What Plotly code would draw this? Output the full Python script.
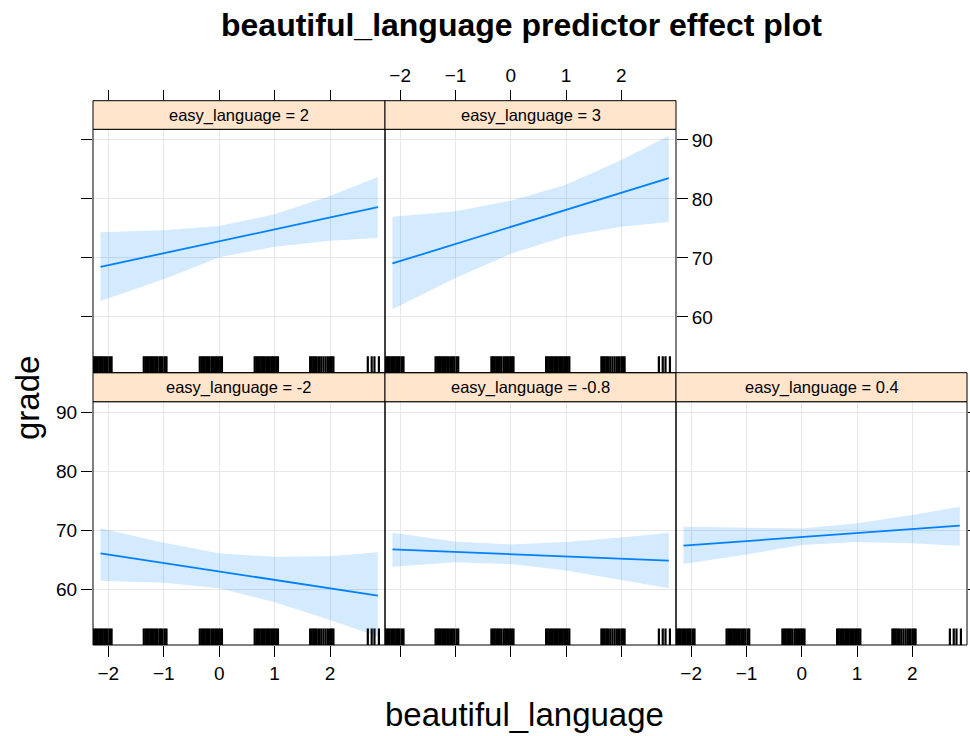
import plotly.graph_objects as go

W, H = 970, 736

# ---------------- data ----------------
x_pts = [-2.14, -1, 0, 1, 2, 2.86]

panel_labels = ["easy_language = -2", "easy_language = -0.8", "easy_language = 0.4",
                "easy_language = 2", "easy_language = 3"]

fit_m2 = [66.1, 64.47, 63.03, 61.6, 60.17, 58.93]
lower_m2 = [61.47, 61.1, 60.2, 57.8, 54.8, 52.0]
upper_m2 = [70.34, 67.9, 66.1, 65.5, 65.6, 66.27]

fit_m08 = [66.78, 66.34, 65.96, 65.57, 65.19, 64.86]
lower_m08 = [63.84, 64.6, 64.3, 63.2, 61.6, 60.2]
upper_m08 = [69.6, 68.1, 67.6, 68.0, 68.8, 69.6]

fit_04 = [67.4, 68.18, 68.86, 69.54, 70.22, 70.8]
lower_04 = [64.3, 65.9, 67.5, 68.0, 67.8, 67.4]
upper_04 = [70.6, 70.5, 70.3, 71.2, 72.6, 74.0]

fit_2 = [68.5, 70.8, 72.8, 74.8, 76.8, 78.6]
lower_2 = [62.7, 66.4, 70.1, 71.9, 72.9, 73.4]
upper_2 = [74.35, 74.7, 75.4, 77.4, 80.5, 83.7]

fit_3 = [69.07, 72.37, 75.26, 78.15, 81.04, 83.53]
lower_3 = [61.3, 66.6, 70.7, 73.7, 75.3, 76.1]
upper_3 = [77.0, 77.9, 79.7, 82.4, 86.6, 90.7]

# observed (jittered) beautiful_language values shown in the rug
rug_x = [-2.28, -2.25, -2.22, -2.19, -2.16, -2.13, -2.1, -2.07, -2.04, -2.01, -1.97, -1.94,
         -1.36, -1.33, -1.3, -1.27, -1.24, -1.21, -1.18, -1.15, -1.12, -1.08, -1.05, -1.02, -0.98, -0.95,
         -0.35, -0.32, -0.29, -0.26, -0.23, -0.2, -0.17, -0.13, -0.1, -0.07, -0.04, -0.01, 0.02, 0.05,
         0.64, 0.67, 0.7, 0.73, 0.76, 0.79, 0.82, 0.85, 0.88, 0.91, 0.94, 0.97, 1.0, 1.03, 1.06,
         1.64, 1.67, 1.7, 1.73, 1.76, 1.8, 1.84, 1.88, 1.92, 1.96, 2.0, 2.03, 2.06,
         2.68, 2.75, 2.8, 2.88]

x_ticks = [-2, -1, 0, 1, 2]
y_ticks = [60, 70, 80, 90]
x_range = [-2.275, 2.99]
y_range = [50.56, 91.8]

panels = [
    (fit_m2, lower_m2, upper_m2),
    (fit_m08, lower_m08, upper_m08),
    (fit_04, lower_04, upper_04),
    (fit_2, lower_2, upper_2),
    (fit_3, lower_3, upper_3),
]

# ---------------- geometry (pixels) ----------------
cols_px = [(93, 385), (385, 676), (676, 967)]
rows_px = {"bottom": {"strip": (372.7, 401.7), "plot": (401.7, 645.0)},
           "top": {"strip": (100.7, 129.3), "plot": (129.3, 372.7)}}
panel_pos = [("bottom", 0), ("bottom", 1), ("bottom", 2), ("top", 0), ("top", 1)]


def px_x(p):
    return p / W


def px_y(p):
    return 1 - p / H


LINE_COL = "#0080FF"
BAND_COL = "rgba(0,128,255,0.17)"
GRID_COL = "#E6E6E6"
FONT = "Liberation Sans, Arial, Helvetica, sans-serif"
TICK_FONT = dict(family=FONT, size=19, color="black")
RUG_FRAC = 0.068

fig = go.Figure()
layout = dict(width=W, height=H, margin=dict(l=0, r=0, t=0, b=0, autoexpand=False),
              paper_bgcolor="white", plot_bgcolor="white", showlegend=False)
shapes = []
annotations = []

for i, ((fit, lo, up), (row, col), lab) in enumerate(zip(panels, panel_pos, panel_labels), start=1):
    xa, ya = f"x{i}", f"y{i}"
    # confidence band
    fig.add_trace(go.Scatter(x=x_pts + x_pts[::-1], y=up + lo[::-1], fill="toself",
                             fillcolor=BAND_COL, line=dict(width=0), mode="lines",
                             xaxis=xa, yaxis=ya, hoverinfo="skip"))
    # fitted line
    fig.add_trace(go.Scatter(x=x_pts, y=fit, mode="lines", line=dict(color=LINE_COL, width=1.8),
                             xaxis=xa, yaxis=ya))
    # rug
    r0 = y_range[0]
    r1 = y_range[0] + RUG_FRAC * (y_range[1] - y_range[0])
    rx, ry = [], []
    for v in rug_x:
        rx += [v, v, None]
        ry += [r0, r1, None]
    fig.add_trace(go.Scatter(x=rx, y=ry, mode="lines", line=dict(color="black", width=2.2),
                             xaxis=xa, yaxis=ya, hoverinfo="skip"))

    c0, c1 = cols_px[col]
    p0, p1 = rows_px[row]["plot"]
    s0, s1 = rows_px[row]["strip"]
    xdom = [px_x(c0), px_x(c1)]
    ydom = [px_y(p1), px_y(p0)]

    xaxis = dict(domain=xdom, anchor=ya, range=x_range, tickvals=x_ticks, showgrid=True,
                 gridcolor=GRID_COL, gridwidth=1, zeroline=False, showline=False,
                 tickfont=TICK_FONT, ticklen=11, tickcolor="black", tickwidth=1, automargin=False)
    yaxis = dict(domain=ydom, anchor=xa, range=y_range, tickvals=y_ticks, showgrid=True,
                 gridcolor=GRID_COL, gridwidth=1, zeroline=False, showline=False,
                 tickfont=TICK_FONT, ticklen=11, tickcolor="black", tickwidth=1, automargin=False)
    if row == "bottom":
        xaxis.update(ticks="outside", side="bottom", showticklabels=(col != 1))
    else:
        xaxis.update(ticks="", showticklabels=False)
    if (row, col) == ("bottom", 0):
        yaxis.update(ticks="outside", side="left", showticklabels=True)
    elif (row, col) == ("top", 0):
        yaxis.update(ticks="outside", side="left", showticklabels=False)
    elif (row, col) == ("top", 1):
        yaxis.update(ticks="outside", side="right", showticklabels=True)
    elif (row, col) == ("bottom", 2):
        yaxis.update(ticks="outside", side="right", showticklabels=False)
    else:
        yaxis.update(ticks="", showticklabels=False)
    layout[f"xaxis{i}"] = xaxis
    layout[f"yaxis{i}"] = yaxis

    # panel border
    shapes.append(dict(type="rect", xref="paper", yref="paper", x0=px_x(c0), x1=px_x(c1),
                       y0=px_y(p1), y1=px_y(p0), line=dict(color="black", width=1),
                       fillcolor="rgba(0,0,0,0)", layer="above"))
    # strip
    shapes.append(dict(type="rect", xref="paper", yref="paper", x0=px_x(c0), x1=px_x(c1),
                       y0=px_y(s1), y1=px_y(s0), line=dict(color="black", width=1),
                       fillcolor="#FFE5CC", layer="above"))
    annotations.append(dict(text=lab, xref="paper", yref="paper", x=(px_x(c0) + px_x(c1)) / 2,
                            y=px_y((s0 + s1) / 2), xanchor="center", yanchor="middle",
                            showarrow=False, font=dict(family=FONT, size=16.5, color="black")))

# top tick axes for the upper row (drawn above the strips)
for j, (base, labels_on) in enumerate([(4, False), (5, True)], start=6):
    row, col = panel_pos[base - 1]
    c0, c1 = cols_px[col]
    s0 = rows_px[row]["strip"][0]
    layout[f"xaxis{j}"] = dict(domain=[px_x(c0), px_x(c1)], overlaying=f"x{base}", anchor="free",
                               position=px_y(s0), side="top", range=x_range, tickvals=x_ticks,
                               ticks="outside", ticklen=11, tickcolor="black", tickwidth=1,
                               showgrid=False, zeroline=False, showline=False, automargin=False,
                               showticklabels=labels_on, tickfont=TICK_FONT)
    fig.add_trace(go.Scatter(x=[None], y=[None], xaxis=f"x{j}", yaxis=f"y{base}",
                             mode="markers", hoverinfo="skip"))

annotations.append(dict(text="<b>beautiful_language predictor effect plot</b>", xref="paper",
                        yref="paper", x=px_x(521), y=px_y(25), xanchor="center", yanchor="middle",
                        showarrow=False, font=dict(family=FONT, size=32, color="black")))
annotations.append(dict(text="beautiful_language", xref="paper", yref="paper", x=px_x(524),
                        y=px_y(714), xanchor="center", yanchor="middle", showarrow=False,
                        font=dict(family=FONT, size=33, color="black")))
annotations.append(dict(text="grade", xref="paper", yref="paper", x=px_x(27), y=px_y(398),
                        xanchor="center", yanchor="middle", textangle=-90, showarrow=False,
                        font=dict(family=FONT, size=33, color="black")))

layout["shapes"] = shapes
layout["annotations"] = annotations
fig.update_layout(**layout)
fig.write_html("out.html")
